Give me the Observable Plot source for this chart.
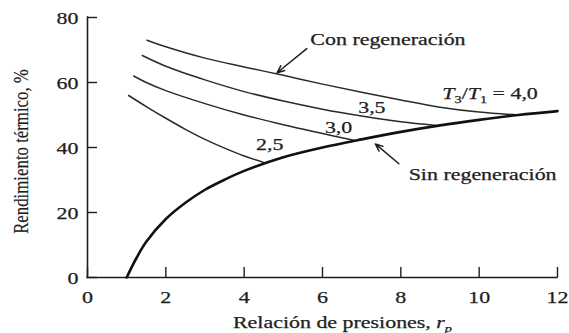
<!DOCTYPE html>
<html>
<head>
<meta charset="utf-8">
<script src="https://cdn.jsdelivr.net/npm/d3@7"></script>
<script src="https://cdn.jsdelivr.net/npm/@observablehq/plot@0.6"></script>
<style>
  html, body { margin: 0; padding: 0; background: #fff; }
  #chart { width: 569px; height: 333px; }
</style>
</head>
<body>
<div id="chart"></div>
<script>
// Brayton cycle: thermal efficiency (%) against pressure ratio r_p,
// simple cycle and regenerative cycle for several T3/T1 ratios.

const xTicks = [0, 2, 4, 6, 8, 10, 12];
const yTicks = [0, 20, 40, 60, 80];

// Simple cycle (sin regeneración)
const rSimple   = [1, 1.25, 1.5, 2, 2.5, 3, 3.5, 4, 5, 6, 7, 8, 9, 10, 11, 12];
const etaSimple = [0, 6, 11, 18, 23, 27, 30.1, 32.8, 37, 40, 42.5, 44.8, 46.8, 48.5, 50, 51.2];

// Regenerative cycle (con regeneración), one curve per T3/T1
const ratios = [4.0, 3.5, 3.0, 2.5];
const rRegen = [
  [1.52, 2, 3, 4, 5, 6, 7, 8, 9, 10, 11],
  [1.4, 2, 3, 4, 5, 6, 7, 8, 8.9],
  [1.18, 1.5, 2, 3, 4, 5, 6, 6.8],
  [1.05, 1.5, 2, 2.5, 3, 3.5, 4, 4.55]
];
const etaRegen = [
  [73, 71, 67.5, 64.8, 62.2, 59.5, 57, 54.6, 52.4, 50.9, 50],
  [68.3, 65, 60.8, 57.2, 54.3, 51.8, 49.7, 47.9, 46.8],
  [62, 60, 57.5, 53.5, 50, 47, 44.3, 42.2],
  [56, 52.6, 49, 45.6, 42.5, 39.8, 37.4, 35.2]
];

// Curve labels (T3/T1 values) and their anchor points in data units
const ratioLabels = ["3,5", "3,0", "2,5"];
const ratioLabelR = [7.26, 6.41, 4.65];
const ratioLabelEta = [52.3, 46.0, 40.9];

const topRatioParts = [["T", "i"], ["3", "sub"], ["/", ""], ["T", "i"], ["1", "sub"], [" = 4,0", ""]];
const topRatioAt = {r: 9.06, eta: 56.6};

const seriesNames = ["Con regeneración", "Sin regeneración"];
const seriesNameAt = [{r: 5.69, eta: 73.0}, {r: 8.2, eta: 31.7}];
const pointerFrom = [{r: 5.6, eta: 70.4}, {r: 7.95, eta: 35.0}];
const pointerTo   = [{r: 4.84, eta: 63.0}, {r: 7.35, eta: 41.1}];

const xTitleParts = [["Relación de presiones, ", ""], ["r", "i"], ["p", "i sub"]];
const yTitle = "Rendimiento térmico, %";

// ---- layout
const W = 569, H = 333;
const M = {top: 17, right: 12, bottom: 56, left: 87};
const plotW = W - M.left - M.right, plotH = H - M.top - M.bottom;
const tickLen = 10;
const ink = "#1e1e1e";
const fontSize = 16;
const textInk = {fill: ink, stroke: ink, strokeWidth: 0.25};

const simple = rSimple.map((r, i) => ({r, eta: etaSimple[i]}));
const regen = ratios.flatMap((k, j) => rRegen[j].map((r, i) => ({k, r, eta: etaRegen[j][i]})));
const plain = parts => parts.map(p => p[0]).join("");

// Text marks, in drawing order, so their groups can be found after rendering
const textMarks = {
  xTickLabels: Plot.text(xTicks, {x: d => d, frameAnchor: "bottom", dy: 20, text: d => String(d),
    fontSize, textAnchor: "middle", lineAnchor: "middle", ...textInk}),
  yTickLabels: Plot.text(yTicks, {y: d => d, frameAnchor: "left", dx: -9, dy: 1, text: d => String(d),
    fontSize, textAnchor: "end", lineAnchor: "middle", ...textInk}),
  xTitle: Plot.text([plain(xTitleParts)], {frameAnchor: "bottom", dx: 20, dy: 45, fontSize,
    textAnchor: "middle", lineAnchor: "middle", ...textInk}),
  yTitle: Plot.text([yTitle], {frameAnchor: "left", dx: -66, dy: 4, rotate: -90, fontSize: 21,
    textAnchor: "middle", lineAnchor: "middle", fill: ink, stroke: ink, strokeWidth: 0.2}),
  ratioLabels: Plot.text(ratioLabels, {x: (d, i) => ratioLabelR[i], y: (d, i) => ratioLabelEta[i], text: d => d,
    fontSize, textAnchor: "middle", lineAnchor: "middle", ...textInk}),
  topRatio: Plot.text([plain(topRatioParts)], {x: () => topRatioAt.r, y: () => topRatioAt.eta, fontSize,
    textAnchor: "start", lineAnchor: "middle", ...textInk}),
  seriesNames: Plot.text(seriesNames, {x: (d, i) => seriesNameAt[i].r, y: (d, i) => seriesNameAt[i].eta, text: d => d,
    fontSize, textAnchor: "start", lineAnchor: "middle", ...textInk})
};

const svg = Plot.plot({
  width: W, height: H,
  marginTop: M.top, marginRight: M.right, marginBottom: M.bottom, marginLeft: M.left,
  x: {domain: [0, 12], axis: null},
  y: {domain: [0, 80], axis: null},
  style: {fontFamily: "'Liberation Serif', 'Times New Roman', serif", background: "#fff", color: ink},
  marks: [
    // axes
    Plot.ruleX([0], {stroke: ink, strokeWidth: 1.6, strokeLinecap: "square"}),
    Plot.ruleY([0], {stroke: ink, strokeWidth: 1.6, strokeLinecap: "square"}),
    Plot.tickX(xTicks, {x: d => d, insetTop: plotH - tickLen, stroke: ink, strokeWidth: 1.4}),
    Plot.tickY(yTicks, {y: d => d, insetRight: plotW - tickLen, stroke: ink, strokeWidth: 1.4}),

    // curves
    Plot.line(regen, {x: "r", y: "eta", z: "k", curve: "catmull-rom", stroke: "#2a2a2a", strokeWidth: 1.5}),
    Plot.line(simple, {x: "r", y: "eta", curve: "catmull-rom", stroke: "#111", strokeWidth: 2.6}),

    // pointers
    Plot.arrow(seriesNames, {
      x1: (d, i) => pointerFrom[i].r, y1: (d, i) => pointerFrom[i].eta,
      x2: (d, i) => pointerTo[i].r, y2: (d, i) => pointerTo[i].eta,
      stroke: ink, strokeWidth: 1.5, headLength: 8, headAngle: 45
    }),

    ...Object.values(textMarks)
  ]
});

document.getElementById("chart").append(svg);

// Map each text mark to its rendered group (text groups appear in mark order)
const textGroups = svg.querySelectorAll(':scope > g[aria-label="text"]');
const names = Object.keys(textMarks);
const group = name => {
  const g = textGroups[names.indexOf(name)];
  return g ? g.querySelectorAll("text") : [];
};

// Rich text: italics and subscripts
const NS = "http://www.w3.org/2000/svg";
function richText(t, parts, size) {
  t.textContent = "";
  let down = false;
  for (const [s, fmt] of parts) {
    const ts = document.createElementNS(NS, "tspan");
    ts.textContent = s;
    const f = fmt.split(" ");
    if (f.includes("i")) ts.setAttribute("font-style", "italic");
    const sub = f.includes("sub");
    if (sub) ts.setAttribute("font-size", (size * 0.65).toFixed(1));
    if (sub !== down) { ts.setAttribute("dy", (sub ? 1 : -1) * size * 0.3); down = sub; }
    t.append(ts);
  }
}
group("xTitle").forEach(t => richText(t, xTitleParts, fontSize));
group("topRatio").forEach(t => richText(t, topRatioParts, fontSize));

// Wide serif lettering
function stretch(name, factor) {
  group(name).forEach(t => {
    const w = t.getComputedTextLength();
    t.setAttribute("textLength", (w * factor).toFixed(1));
    t.setAttribute("lengthAdjust", "spacingAndGlyphs");
  });
}
["xTickLabels", "yTickLabels", "xTitle", "ratioLabels", "topRatio", "seriesNames"]
  .forEach(n => stretch(n, 1.37));
stretch("yTitle", 0.8);
</script>
</body>
</html>
